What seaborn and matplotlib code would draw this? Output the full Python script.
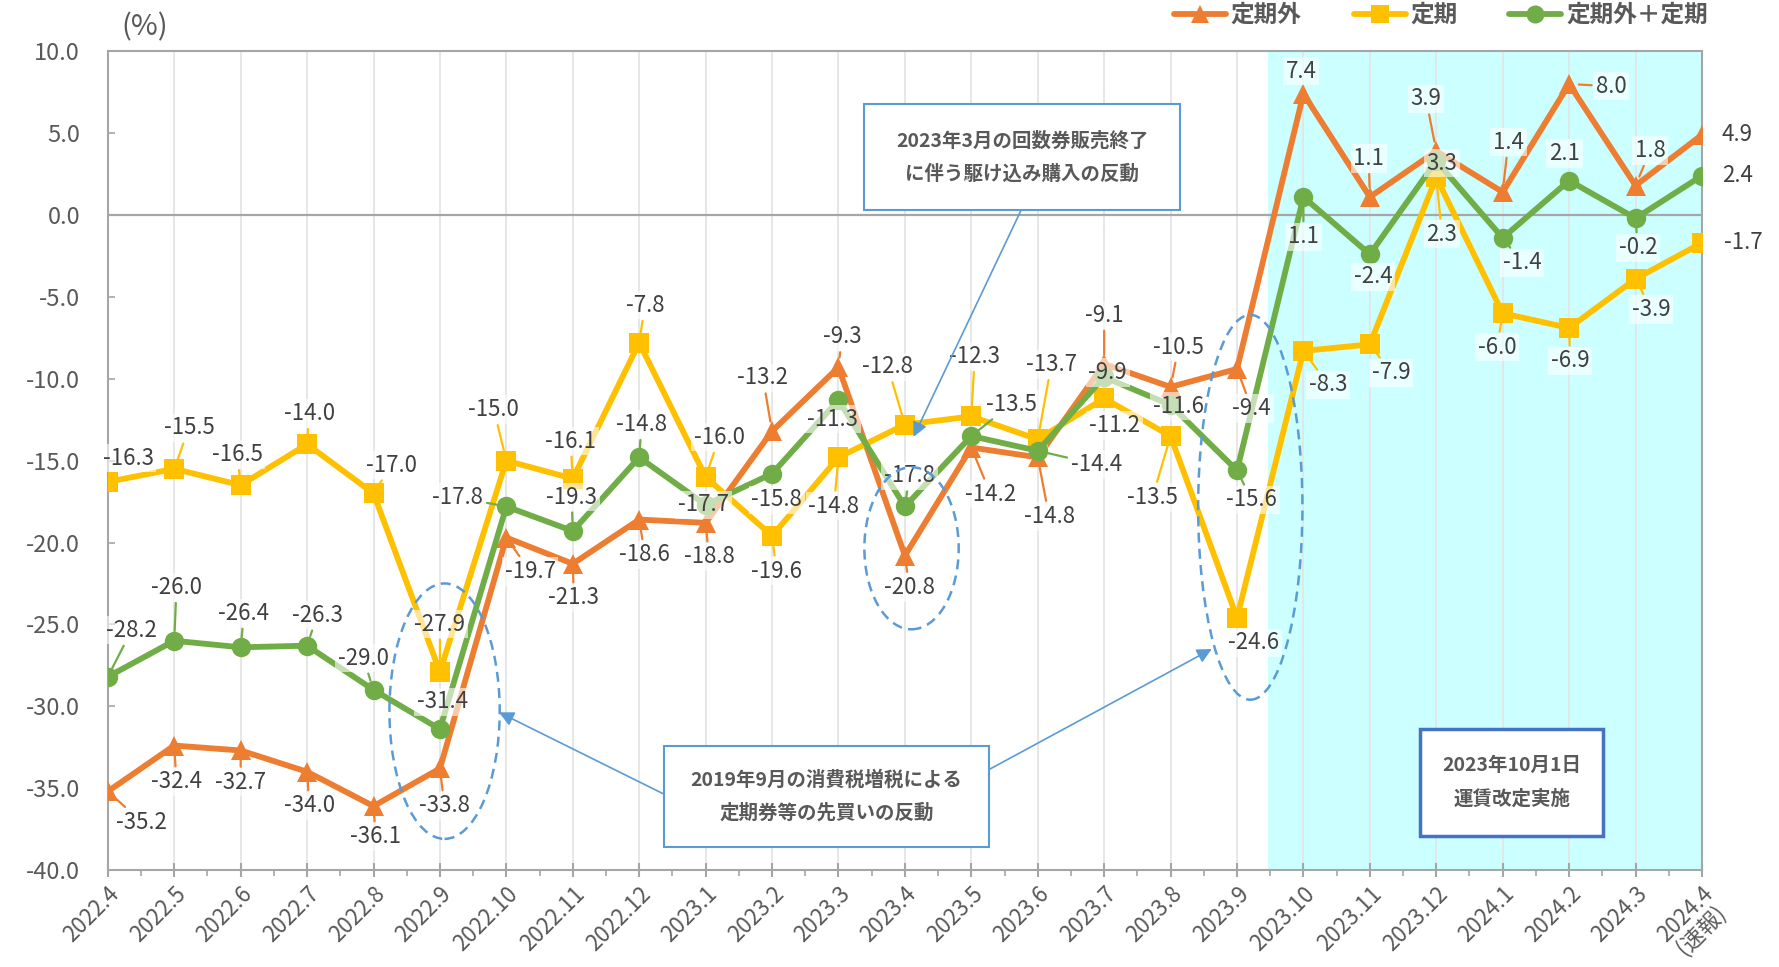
import numpy as np
import pandas as pd
import matplotlib
matplotlib.use("Agg")
import matplotlib.pyplot as plt
import seaborn as sns
from matplotlib.patches import Ellipse, Rectangle

# ---------------- data ----------------
months = ["2022.4", "2022.5", "2022.6", "2022.7", "2022.8", "2022.9", "2022.10",
          "2022.11", "2022.12", "2023.1", "2023.2", "2023.3", "2023.4", "2023.5",
          "2023.6", "2023.7", "2023.8", "2023.9", "2023.10", "2023.11", "2023.12",
          "2024.1", "2024.2", "2024.3", "2024.4\n(速報)"]
series_names = ["定期外", "定期", "定期外＋定期"]
teikigai = [-35.2, -32.4, -32.7, -34.0, -36.1, -33.8, -19.7, -21.3, -18.6, -18.8,
            -13.2, -9.3, -20.8, -14.2, -14.8, -9.1, -10.5, -9.4, 7.4, 1.1, 3.9,
            1.4, 8.0, 1.8, 4.9]
teiki = [-16.3, -15.5, -16.5, -14.0, -17.0, -27.9, -15.0, -16.1, -7.8, -16.0,
         -19.6, -14.8, -12.8, -12.3, -13.7, -11.2, -13.5, -24.6, -8.3, -7.9, 2.3,
         -6.0, -6.9, -3.9, -1.7]
total = [-28.2, -26.0, -26.4, -26.3, -29.0, -31.4, -17.8, -19.3, -14.8, -17.7,
         -15.8, -11.3, -17.8, -13.5, -14.4, -9.9, -11.6, -15.6, 1.1, -2.4, 3.3,
         -1.4, 2.1, -0.2, 2.4]
y_ticks = [-40, -35, -30, -25, -20, -15, -10, -5, 0, 5, 10]

# label offsets (style only, in reference pixels: dx right, dy down)
orange_off = [(30, 27), (2, 32), (0, 28), (2, 30), (2, 27), (4, 33), (21, 30), (1, 30),
              (5, 31), (3, 30), (-8, -47), (3, -27), (4, 28), (17, 41), (10, 52),
              (0, -43), (7, -35), (13, 35), (-2, -20), (-1, -34), (-9, -46), (5, -44),
              (37, 2), (13, -31), (31, 0)]
yellow_off = [(18, -21), (13, -36), (-3, -27), (2, -27), (16, -25), (0, -42), (-11, -45),
              (-2, -33), (5, -33), (12, -35), (4, 31), (-4, 43), (-15, -51), (3, -53),
              (12, -66), (9, 24), (-16, 54), (15, 22), (22, 30), (19, 25), (5, 50),
              (-5, 30), (1, 29), (14, 27), (36, 0)]
green_off = [(21, -41), (2, -47), (3, -30), (9, -27), (-9, -28), (2, -24), (-43, -8),
             (-1, -30), (2, -29), (-2, 0), (4, 23), (-5, 17), (4, -27), (35, -28),
             (52, 12), (3, -4), (7, 1), (13, 26), (0, 35), (3, 20), (5, 2), (17, 22),
             (-4, -24), (2, 26), (31, 0)]

colors = {"定期外": "#ED7D31", "定期": "#FFC000", "定期外＋定期": "#70AD47"}
markers = {"定期外": "^", "定期": "s", "定期外＋定期": "o"}
TXT = "#595959"

sns.set_theme(style="white")
plt.rcParams["font.family"] = ["Noto Sans CJK JP", "DejaVu Sans"]
plt.rcParams["axes.unicode_minus"] = False

n = len(months)
idx = np.arange(n)
df = pd.DataFrame({
    "x": np.concatenate([idx, idx, idx]),
    "value": teikigai + teiki + total,
    "series": np.repeat(series_names, n),
})

fig = plt.figure(figsize=(17.79, 9.67), dpi=100)
ax = fig.add_axes([0.0606, 0.1003, 0.8961, 0.8467])

ax.axvspan(17.47, 24, color="#CCFFFF", zorder=0.2, lw=0)

sns.lineplot(data=df, x="x", y="value", hue="series", style="series",
             hue_order=series_names, style_order=series_names,
             palette=colors, markers=markers, dashes=False,
             linewidth=4.2, markersize=14, markeredgewidth=0, ax=ax, zorder=3)

ax.set_xlim(0, 24)
ax.set_ylim(-40, 10)
ax.set_xlabel("")
ax.set_ylabel("")

# legend
handles, labels = ax.get_legend_handles_labels()
ax.get_legend().remove()
for h in handles:
    h.set_linewidth(4.2)
    h.set_markersize(13)
    h.set_markeredgewidth(0)
fig.legend(handles, labels, loc="center", bbox_to_anchor=(0.81, 0.9845), ncol=3,
           frameon=False, handlelength=2.2, handletextpad=0.2, columnspacing=2.2,
           prop={"size": 17, "weight": "bold"}, labelcolor=TXT)

# axes styling
for s in ax.spines.values():
    s.set_color("#A6A6A6")
    s.set_linewidth(1.5)
ax.axhline(0, color="#A6A6A6", lw=1.6, zorder=1)
ax.set_xticks(idx)
ax.set_xticks(np.arange(0.5, 24, 1), minor=True)
ax.set_xticklabels(months, rotation=45, ha="right", va="top",
                   rotation_mode="anchor", fontsize=16, color=TXT,
                   multialignment="center", linespacing=0.9)
ax.set_yticks(y_ticks)
ax.set_yticklabels([f"{v:.1f}" for v in y_ticks], fontsize=17, color=TXT)
ax.tick_params(axis="x", which="major", direction="inout", length=10, width=1.5,
               color="#A6A6A6", pad=4, bottom=True)
ax.tick_params(axis="x", which="minor", direction="out", length=4, width=1.2,
               color="#A6A6A6", bottom=True)
ax.tick_params(axis="y", direction="in", length=5, width=1.2, color="#A6A6A6",
               pad=20, left=True)
ax.grid(axis="x", which="major", color="#E3E3E3", lw=1.2)
ax.grid(axis="y", visible=False)
ax.set_axisbelow(True)

# data labels
K = 1.1346 * 0.72
for name, vals, offs in [("定期外", teikigai, orange_off),
                         ("定期", teiki, yellow_off),
                         ("定期外＋定期", total, green_off)]:
    c = colors[name]
    for i, (v, (dx, dy)) in enumerate(zip(vals, offs)):
        dist = np.hypot(dx, dy)
        ap = None
        if dist >= 26 and i < n - 1:
            ap = dict(arrowstyle="-", color=c, lw=1.6, shrinkA=1, shrinkB=7)
        ax.annotate(f"{v:.1f}", xy=(i, v), xytext=(dx * K, -dy * K),
                    textcoords="offset points", ha="center", va="center",
                    fontsize=16, color="#404040", zorder=6,
                    bbox=dict(boxstyle="square,pad=0.12", fc="white", ec="none",
                              alpha=0.6),
                    arrowprops=ap, annotation_clip=False)

# dashed ellipses
BLUE = "#5B9BD5"
for cx, cy, w, h in [(5.07, -30.3, 1.66, 15.6), (12.1, -20.35, 1.42, 9.9),
                     (17.2, -17.85, 1.57, 23.5)]:
    ax.add_patch(Ellipse((cx, cy), w, h, fill=False, ec=BLUE, lw=1.8,
                         ls=(0, (4, 2.5)), zorder=8))

# annotation boxes
def box(x0, x1, y0, y1, text, ec, lw):
    ax.add_patch(Rectangle((x0, y0), x1 - x0, y1 - y0, fc="white", ec=ec, lw=lw,
                           zorder=9))
    ax.text((x0 + x1) / 2, (y0 + y1) / 2, text, ha="center", va="center",
            fontsize=14, fontweight="bold", color=TXT, linespacing=1.9, zorder=10)

box(11.39, 16.14, 0.30, 6.75, "2023年3月の回数券販売終了\nに伴う駆け込み購入の反動", BLUE, 1.5)
box(8.37, 13.27, -38.6, -32.4, "2019年9月の消費税増税による\n定期券等の先買いの反動", BLUE, 1.5)
box(19.76, 22.51, -37.9, -31.4, "2023年10月1日\n運賃改定実施", "#4472C4", 2.5)

arrow_kw = dict(arrowstyle="-|>", color=BLUE, lw=1.2, mutation_scale=22,
                shrinkA=0, shrinkB=0)
ax.annotate("", xy=(12.13, -13.55), xytext=(13.75, 0.3), arrowprops=arrow_kw, zorder=8)
ax.annotate("", xy=(5.89, -30.37), xytext=(8.37, -35.36), arrowprops=arrow_kw, zorder=8)
ax.annotate("", xy=(16.62, -26.5), xytext=(12.9, -34.67), arrowprops=arrow_kw, zorder=8)

fig.text(0.0815, 0.972, "(%)", ha="center", va="center", fontsize=21, color=TXT)

fig.savefig("out.png", dpi=100)
